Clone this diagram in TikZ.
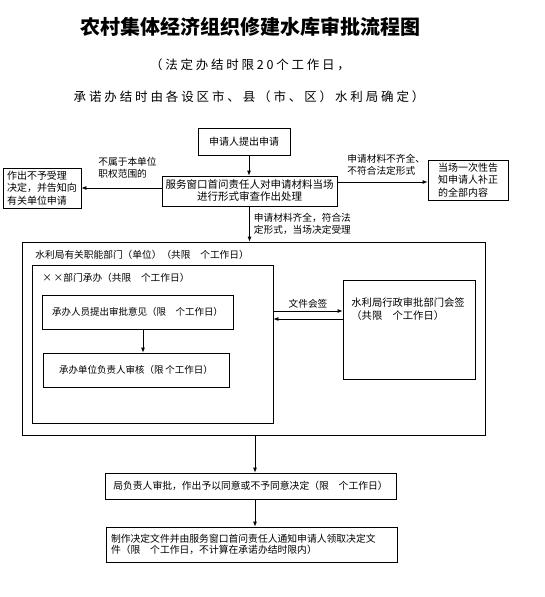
\documentclass[tikz,border=0pt]{standalone}
\usepackage{fontspec}
\setmainfont{Noto Sans CJK SC}
\usetikzlibrary{arrows.meta, positioning}

\begin{document}
\begin{tikzpicture}[x=1pt,y=-1pt,line width=0.8pt,
  >={Latex[length=5pt,width=4pt]},
  box/.style={draw,inner sep=3pt,align=center,font=\fontsize{10}{12.5}\selectfont},
  note/.style={inner sep=0pt,align=left,font=\fontsize{9.7}{12.5}\selectfont}]
\useasboundingbox (0,0) rectangle (544,597);

% title
\node[inner sep=0pt,font=\fontsize{20}{23}\bfseries] (title) at (250,27) {农村集体经济组织修建水库审批流程图};
\node[inner sep=0pt,font=\fontsize{12.5}{14}\selectfont\addfontfeature{LetterSpace=22}] (sub1) at (250,65) {（法定办结时限20个工作日，};
\node[inner sep=0pt,font=\fontsize{12.5}{14}\selectfont\addfontfeature{LetterSpace=23}] (sub2) at (249,97) {承诺办结时由各设区市、县（市、区）水利局确定）};

% acceptance
\node[box,minimum width=92pt,minimum height=27pt] (apply) at (244,141.5) {申请人提出申请};
\node[box,minimum width=175pt,minimum height=30pt,font=\fontsize{10.5}{12}\selectfont] (check) at (249.5,191) {服务窗口首问责任人对申请材料当场\\进行形式审查作出处理};
\node[box,minimum width=78pt,minimum height=40pt,align=left,inner sep=2pt,font=\fontsize{10}{12.5}\selectfont] (reject) at (42,188) {作出不予受理\\决定，并告知向\\有关单位申请};
\node[box,minimum width=80pt,minimum height=40pt,align=left,inner sep=2pt,font=\fontsize{10}{12.5}\selectfont] (notify) at (468,180) {当场一次性告\\知申请人补正\\的全部内容};

\draw[->] (apply.south -| 249,0) -- (check.north -| 249,0);
\draw[<-] (reject.east) -- (reject.east -| check.west);
\draw[->] (check.east |- 0,182) -- (notify.west |- 0,182);
\node[note,anchor=south west] (outscope) at (98,179) {不属于本单位\\职权范围的};
\node[note,anchor=south west] (lack) at (347,176) {申请材料不齐全、\\不符合法定形式};

% departments
\node[draw,minimum width=463pt,minimum height=193pt] (outer) at (253.5,338.5) {};
\node[note,anchor=west] (outerlbl) at (35,255) {水利局有关职能部门（单位）（共限\quad 个工作日）};
\node[draw,minimum width=241pt,minimum height=158pt] (dept) at (152.5,344) {};
\node[note,anchor=west] (deptlbl) at (42,278) {×\,×部门承办（共限\quad 个工作日）};
\node[box,minimum width=191pt,minimum height=34pt,font=\fontsize{9.5}{12}\selectfont] (opinion) at (137.5,312) {承办人员提出审批意见（限\quad 个工作日）};
\node[box,minimum width=186pt,minimum height=34pt,font=\fontsize{9.5}{12}\selectfont] (review) at (136,370) {承办单位负责人审核（限\,个工作日）};
\node[draw,minimum width=132pt,minimum height=99pt] (sign) at (409,329.5) {};
\node[note,anchor=north west,font=\fontsize{10.3}{13}\selectfont] (signlbl) at (351,297) {水利局行政审批部门会签\\（共限\quad 个工作日）};

\draw[->] (check.south) -- node[note,right=4pt]{申请材料齐全，符合法\\定形式，当场决定受理} (check.south |- outer.north);
\draw[->] (opinion.south -| 143,0) -- (review.north -| 143,0);
\draw[->] (dept.east |- 0,311) -- node[note,above=2pt]{文件会签} (sign.west |- 0,311);
\draw[<-] (dept.east |- 0,319) -- (sign.west |- 0,319);

% decision
\node[box,minimum width=291pt,minimum height=26pt,font=\fontsize{9.8}{12}\selectfont] (approve) at (250.5,486) {局负责人审批，作出予以同意或不予同意决定（限\quad 个工作日）};
\node[box,text width=281pt,minimum height=35pt,inner sep=5pt,align=left,font=\fontsize{9.8}{11.5}\selectfont] (issue) at (251.5,544.5) {制作决定文件并由服务窗口首问责任人通知申请人领取决定文\\件（限\quad 个工作日，不计算在承诺办结时限内）};

\draw[->] (outer.south -| 255,0) -- (approve.north -| 255,0);
\draw[->] (approve.south -| 255,0) -- (issue.north -| 255,0);
\end{tikzpicture}
\end{document}
